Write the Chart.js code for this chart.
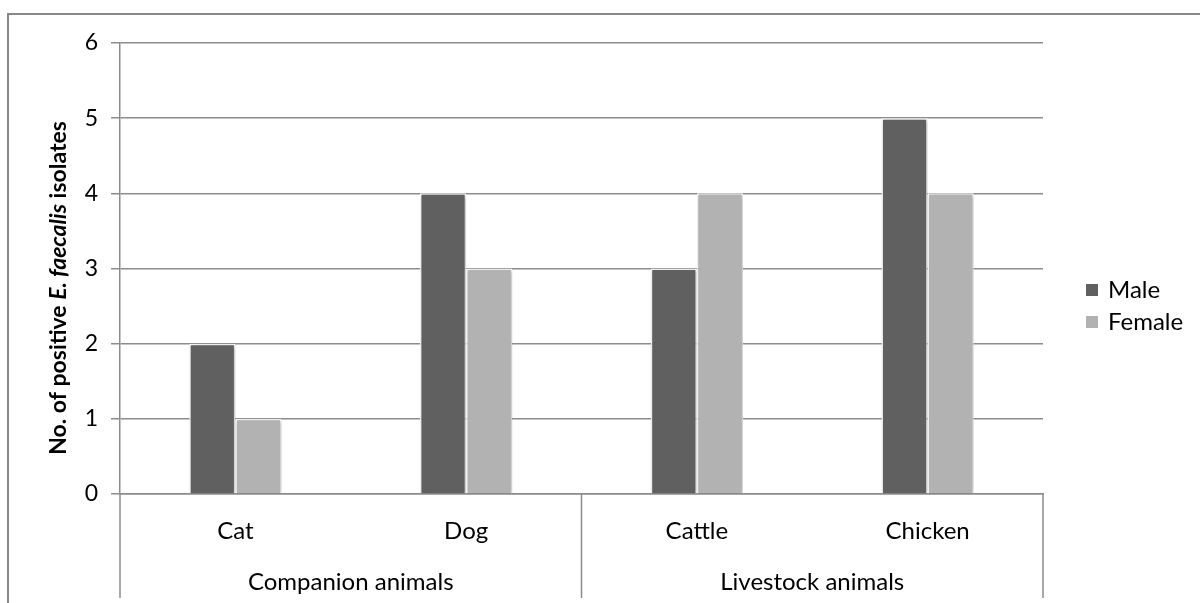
<!DOCTYPE html>
<html>
<head>
<meta charset="utf-8">
<script src="https://cdn.jsdelivr.net/npm/chart.js@4/dist/chart.umd.min.js"></script>
<style>
  html, body { margin: 0; padding: 0; background: #fff; }
  #wrap { width: 1200px; height: 603px; }
</style>
</head>
<body>
<div id="wrap"><canvas id="chart" width="1200" height="603"></canvas></div>
<script>
const categories = ['Cat', 'Dog', 'Cattle', 'Chicken']
const groups = ['Companion animals', 'Livestock animals']
const groupSizes = [2, 2]
const maleCounts = [2, 4, 3, 5]
const femaleCounts = [1, 3, 4, 4]
const yTicks = [0, 1, 2, 3, 4, 5, 6]

const FONT = 'Lato, "Open Sans", sans-serif'
const LINE = '#8c8c8c'

// frame, group separators, y title and legend drawn by hand
const decorations = {
  id: 'decorations',
  beforeDatasetsDraw(chart) {
    const ctx = chart.ctx
    ctx.save()
    ctx.shadowColor = 'rgba(0,0,0,0.3)'
    ctx.shadowBlur = 4
    ctx.shadowOffsetX = 1
    ctx.shadowOffsetY = 1
  },
  afterDatasetsDraw(chart) {
    chart.ctx.restore()
  },
  afterDraw(chart) {
    const ctx = chart.ctx
    const area = chart.chartArea
    const x = chart.scales.x
    ctx.save()

    // outer frame
    ctx.strokeStyle = '#878787'
    ctx.lineWidth = 2
    ctx.beginPath()
    ctx.moveTo(8, 603)
    ctx.lineTo(8, 14)
    ctx.lineTo(1200, 14)
    ctx.stroke()

    // group separators under the axis
    const lowY = 598
    ctx.strokeStyle = LINE
    ctx.lineWidth = 1.5
    let start = 0
    const edges = [area.left]
    groupSizes.forEach(n => {
      const end = start + n
      const right = end >= categories.length
        ? area.right
        : (x.getPixelForValue(end - 1) + x.getPixelForValue(end)) / 2
      edges.push(right)
      start = end
    })
    ctx.beginPath()
    edges.forEach(px => {
      ctx.moveTo(px, area.bottom)
      ctx.lineTo(px, lowY)
    })
    ctx.stroke()

    // group labels
    ctx.fillStyle = '#000'
    ctx.font = '24px ' + FONT
    ctx.textAlign = 'center'
    ctx.textBaseline = 'middle'
    groups.forEach((g, i) => {
      ctx.fillText(g, (edges[i] + edges[i + 1]) / 2, 582)
    })

    // y axis title with italic species name
    const parts = [
      ['bold 23px ' + FONT, 'No. of positive '],
      ['italic bold 23px ' + FONT, 'E. faecalis'],
      ['bold 23px ' + FONT, ' isolates']
    ]
    let total = 0
    parts.forEach(p => { ctx.font = p[0]; total += ctx.measureText(p[1]).width })
    ctx.translate(59, 288)
    ctx.rotate(-Math.PI / 2)
    ctx.textAlign = 'left'
    let cx = -total / 2
    parts.forEach(p => {
      ctx.font = p[0]
      ctx.fillText(p[1], cx, 0)
      cx += ctx.measureText(p[1]).width
    })
    ctx.setTransform(1, 0, 0, 1, 0, 0)

    // legend
    ctx.font = '24px ' + FONT
    ctx.textAlign = 'left'
    chart.data.datasets.forEach((ds, i) => {
      const ly = 290 + i * 32
      ctx.fillStyle = ds.backgroundColor
      ctx.fillRect(1086, ly - 6, 12, 12)
      ctx.fillStyle = '#000'
      ctx.fillText(ds.label, 1108, ly)
    })
    ctx.restore()
  }
}

new Chart(document.getElementById('chart'), {
  type: 'bar',
  data: {
    labels: categories,
    datasets: [
      {
        label: 'Male',
        data: maleCounts,
        backgroundColor: '#606060',
        borderColor: '#ffffff',
        borderWidth: 1.5,
        categoryPercentage: 0.4,
        barPercentage: 1
      },
      {
        label: 'Female',
        data: femaleCounts,
        backgroundColor: '#b2b2b2',
        borderColor: '#ffffff',
        borderWidth: 1.5,
        categoryPercentage: 0.4,
        barPercentage: 1
      }
    ]
  },
  options: {
    responsive: false,
    animation: false,
    devicePixelRatio: 1,
    layout: { padding: { left: 8, right: 157, top: 43, bottom: 0 } },
    plugins: {
      legend: { display: false },
      tooltip: { enabled: false }
    },
    scales: {
      y: {
        min: 0,
        max: 6,
        afterBuildTicks: s => { s.ticks = yTicks.map(v => ({ value: v })) },
        afterFit: s => { s.width = 112 },
        ticks: { font: { family: FONT, size: 23 }, color: '#000', padding: 13 },
        grid: { color: LINE, lineWidth: 1.5, tickLength: 9 },
        border: { display: true, color: LINE, width: 1.5 }
      },
      x: {
        afterFit: s => { s.height = 109 },
        ticks: { font: { family: FONT, size: 24 }, color: '#000', padding: 23 },
        grid: { display: false, drawTicks: false },
        border: { display: true, color: LINE, width: 1.5 }
      }
    }
  },
  plugins: [decorations]
})
</script>
</body>
</html>
